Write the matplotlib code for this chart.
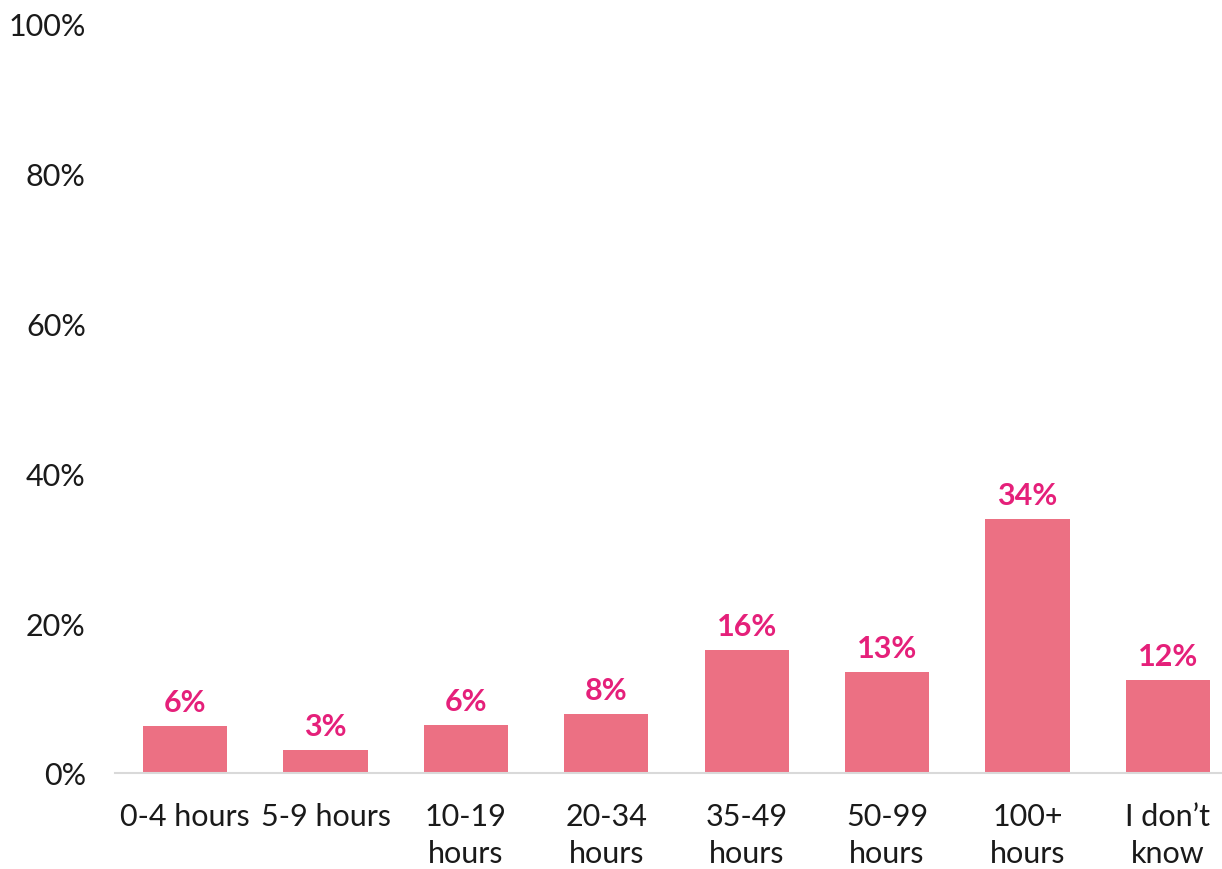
import matplotlib
matplotlib.use("Agg")
import matplotlib.pyplot as plt
from matplotlib.ticker import FuncFormatter

# Datos
categories = ["0-4 hours", "5-9 hours", "10-19\nhours", "20-34\nhours",
              "35-49\nhours", "50-99\nhours", "100+\nhours", "I don\u2019t\nknow"]
values = [6.3, 3.1, 6.4, 7.9, 16.4, 13.5, 33.9, 12.4]
labels = ["6%", "3%", "6%", "8%", "16%", "13%", "34%", "12%"]

BAR_COLOR = "#EC7083"
LABEL_COLOR = "#E5207A"

plt.rcParams["font.family"] = ["Lato", "DejaVu Sans"]

fig = plt.figure(figsize=(12.22, 8.7), dpi=100)
ax = fig.add_axes([115 / 1222, 96 / 870, 1 - 115 / 1222, 749 / 870])

x = range(len(categories))
bars = ax.bar(x, values, width=0.6, color=BAR_COLOR, zorder=2)

for bar, lab in zip(bars, labels):
    ax.text(bar.get_x() + bar.get_width() / 2, bar.get_height() + 1.3, lab,
            ha="center", va="bottom", fontsize=22, fontweight="bold",
            color=LABEL_COLOR)

ax.set_ylim(0, 100)
ax.set_xlim(-0.5, 7.386)
ax.set_yticks(range(0, 101, 20))
ax.yaxis.set_major_formatter(FuncFormatter(lambda v, p: f"{int(v)}%"))
ax.set_xticks(list(x))
ax.set_xticklabels(categories, linespacing=1.4)

ax.tick_params(axis="y", length=0, pad=21, labelsize=22, labelcolor="#1a1a1a")
ax.tick_params(axis="x", length=0, pad=21, labelsize=22, labelcolor="#1a1a1a")

for side in ["top", "right", "left"]:
    ax.spines[side].set_visible(False)
ax.spines["bottom"].set_color("#D9D9D9")
ax.spines["bottom"].set_linewidth(1.5)

fig.savefig("out.png", dpi=100)
